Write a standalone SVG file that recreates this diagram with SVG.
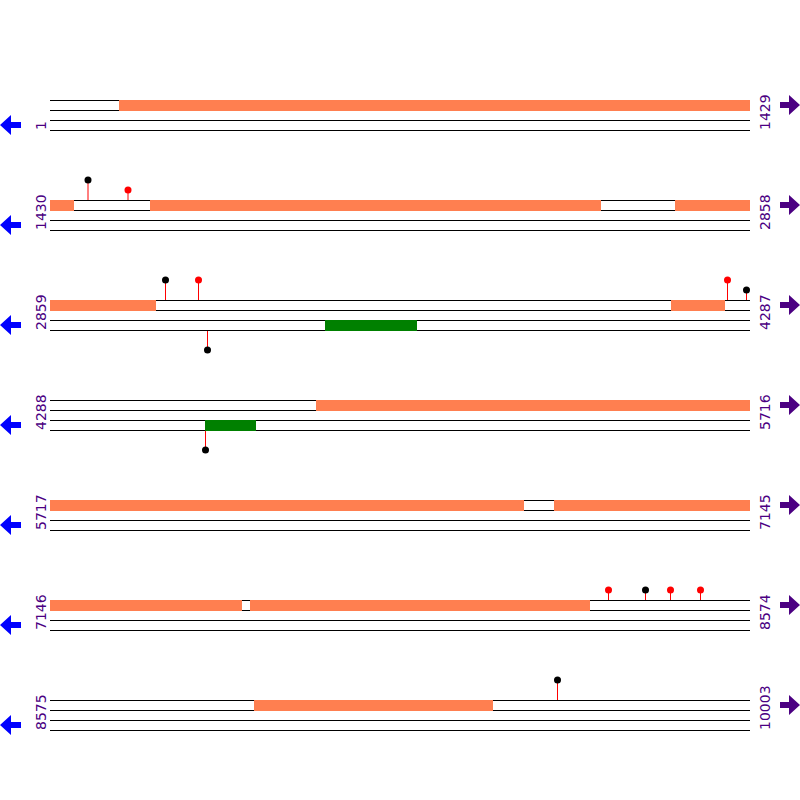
<svg xmlns="http://www.w3.org/2000/svg" width="800" height="800" viewBox="0 0 800 800">
<defs>
<style>
.trk{stroke:#000;stroke-width:1;fill:none}
.cds{fill:#FF7F50}
.grn{fill:#008000}
.stem{stroke:#FF0000;stroke-width:1}
.hb{fill:#000}
.hr{fill:#FF0000}
.lbl{font-family:"DejaVu Sans",sans-serif;font-size:14px;fill:#4B0082}
.la{fill:#0000FF}
.ra{fill:#4B0082}
</style>
<g id="trackrow">
<line class="trk" x1="50" y1="100.5" x2="750" y2="100.5"/>
<line class="trk" x1="50" y1="110.5" x2="750" y2="110.5"/>
<line class="trk" x1="50" y1="120.5" x2="750" y2="120.5"/>
<line class="trk" x1="50" y1="130.5" x2="750" y2="130.5"/>
<polygon class="la" points="0,125 11,115 11,122 21,122 21,128 11,128 11,135"/>
<polygon class="ra" points="800,105 789,95 789,102 780,102 780,108 789,108 789,115"/>
</g>
</defs>
<g id="tracks">
<use href="#trackrow" y="0"/>
<use href="#trackrow" y="100"/>
<use href="#trackrow" y="200"/>
<use href="#trackrow" y="300"/>
<use href="#trackrow" y="400"/>
<use href="#trackrow" y="500"/>
<use href="#trackrow" y="600"/>
</g>
<g id="row1">
<rect class="cds" x="119" y="100" width="631" height="11"/>
<text class="lbl" transform="translate(46,130) rotate(-90)">1</text>
<text class="lbl" transform="translate(770,130) rotate(-90)">1429</text>
</g>
<g id="row2">
<rect class="cds" x="50" y="200" width="24" height="11"/>
<rect class="cds" x="150" y="200" width="451" height="11"/>
<rect class="cds" x="675" y="200" width="75" height="11"/>
<line class="stem" x1="88" y1="180" x2="88" y2="200"/>
<circle class="hb" cx="88" cy="180" r="3.5"/>
<line class="stem" x1="128" y1="190" x2="128" y2="200"/>
<circle class="hr" cx="128" cy="190" r="3.5"/>
<text class="lbl" transform="translate(46,230) rotate(-90)">1430</text>
<text class="lbl" transform="translate(770,230) rotate(-90)">2858</text>
</g>
<g id="row3">
<rect class="cds" x="50" y="300" width="106" height="11"/>
<rect class="cds" x="671" y="300" width="54" height="11"/>
<rect class="grn" x="325" y="320" width="92" height="11"/>
<line class="stem" x1="165.5" y1="280" x2="165.5" y2="300"/>
<circle class="hb" cx="165.5" cy="280" r="3.5"/>
<line class="stem" x1="198.5" y1="280" x2="198.5" y2="300"/>
<circle class="hr" cx="198.5" cy="280" r="3.5"/>
<line class="stem" x1="727.5" y1="280" x2="727.5" y2="300"/>
<circle class="hr" cx="727.5" cy="280" r="3.5"/>
<line class="stem" x1="746.5" y1="290" x2="746.5" y2="300"/>
<circle class="hb" cx="746.5" cy="290" r="3.5"/>
<line class="stem" x1="207.5" y1="331" x2="207.5" y2="350"/>
<circle class="hb" cx="207.5" cy="350" r="3.5"/>
<text class="lbl" transform="translate(46,330) rotate(-90)">2859</text>
<text class="lbl" transform="translate(770,330) rotate(-90)">4287</text>
</g>
<g id="row4">
<rect class="cds" x="316" y="400" width="434" height="11"/>
<rect class="grn" x="205" y="420" width="51" height="11"/>
<line class="stem" x1="205.5" y1="431" x2="205.5" y2="450"/>
<circle class="hb" cx="205.5" cy="450" r="3.5"/>
<text class="lbl" transform="translate(46,430) rotate(-90)">4288</text>
<text class="lbl" transform="translate(770,430) rotate(-90)">5716</text>
</g>
<g id="row5">
<rect class="cds" x="50" y="500" width="474" height="11"/>
<rect class="cds" x="554" y="500" width="196" height="11"/>
<text class="lbl" transform="translate(46,530) rotate(-90)">5717</text>
<text class="lbl" transform="translate(770,530) rotate(-90)">7145</text>
</g>
<g id="row6">
<rect class="cds" x="50" y="600" width="192" height="11"/>
<rect class="cds" x="250" y="600" width="340" height="11"/>
<line class="stem" x1="608.5" y1="590" x2="608.5" y2="600"/>
<circle class="hr" cx="608.5" cy="590" r="3.5"/>
<line class="stem" x1="645.5" y1="590" x2="645.5" y2="600"/>
<circle class="hb" cx="645.5" cy="590" r="3.5"/>
<line class="stem" x1="670.5" y1="590" x2="670.5" y2="600"/>
<circle class="hr" cx="670.5" cy="590" r="3.5"/>
<line class="stem" x1="700.5" y1="590" x2="700.5" y2="600"/>
<circle class="hr" cx="700.5" cy="590" r="3.5"/>
<text class="lbl" transform="translate(46,630) rotate(-90)">7146</text>
<text class="lbl" transform="translate(770,630) rotate(-90)">8574</text>
</g>
<g id="row7">
<rect class="cds" x="254" y="700" width="239" height="11"/>
<line class="stem" x1="557.5" y1="680" x2="557.5" y2="700"/>
<circle class="hb" cx="557.5" cy="680" r="3.5"/>
<text class="lbl" transform="translate(46,730) rotate(-90)">8575</text>
<text class="lbl" transform="translate(770,730) rotate(-90)">10003</text>
</g>
</svg>
